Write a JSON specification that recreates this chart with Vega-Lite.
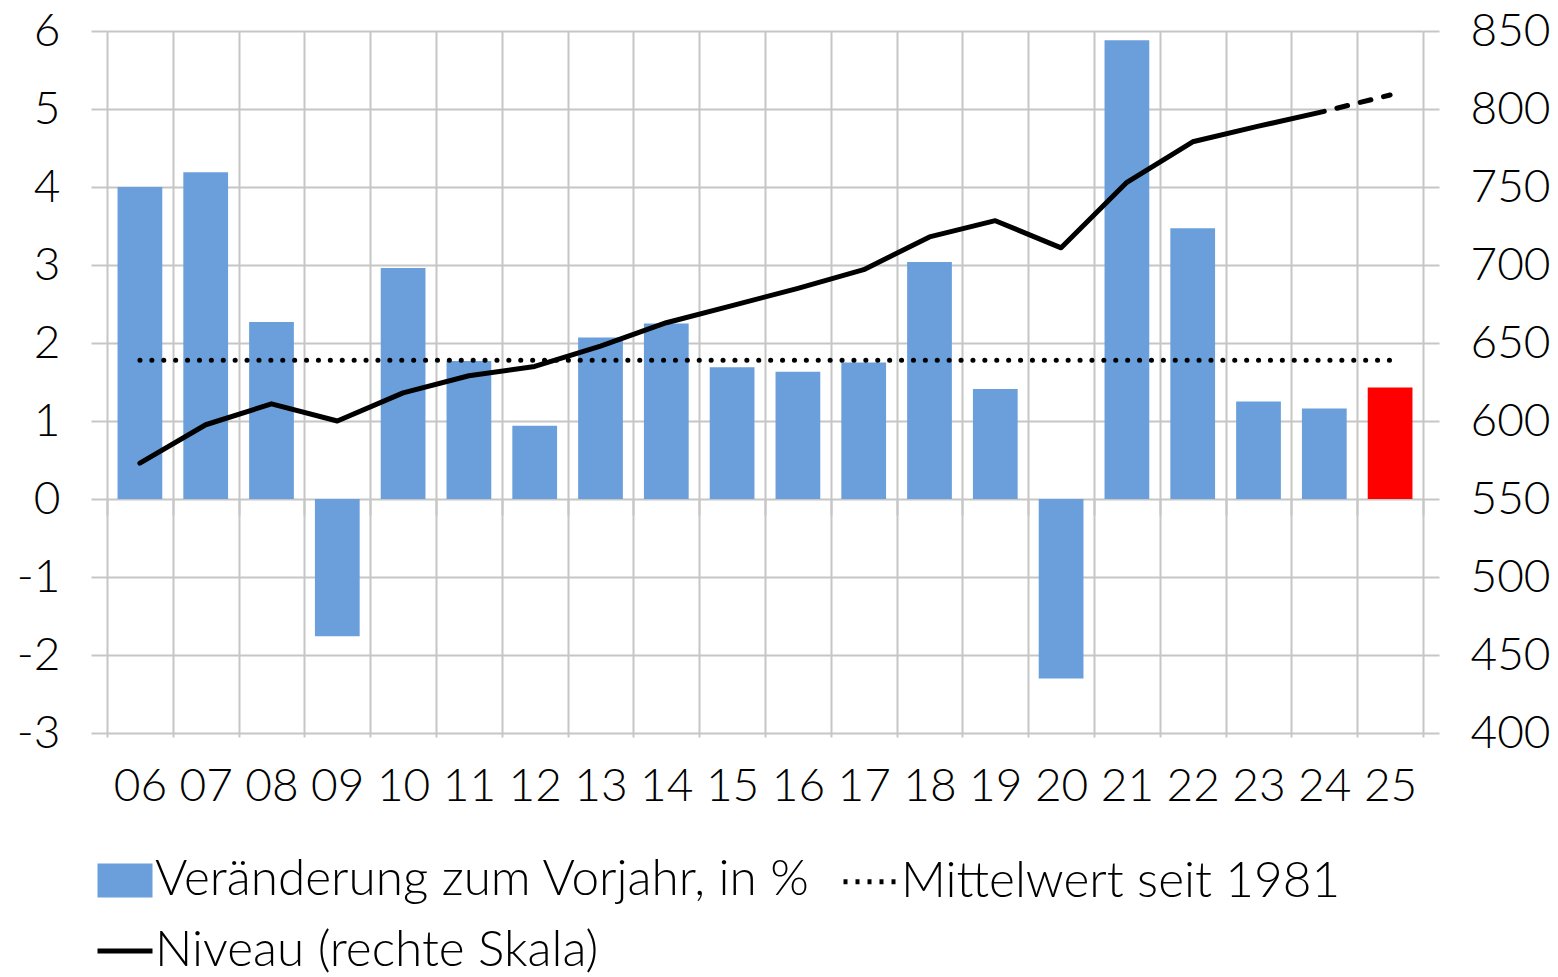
{
  "$schema": "https://vega.github.io/schema/vega-lite/v6.json",
  "width": 1316,
  "height": 702,
  "autosize": {"type": "none"},
  "padding": {"left": 107, "top": 31, "right": 135, "bottom": 244},
  "background": "white",
  "config": {
    "view": {"stroke": null},
    "font": "Lato",
    "axis": {"labelFont": "Lato", "labelFontSize": 46, "labelFontWeight": 300, "labelColor": "#000000", "gridColor": "#c6c6c6", "gridWidth": 2, "tickColor": "#c6c6c6", "tickWidth": 2, "domain": false, "title": null}
  },
  "datasets": {
    "main": [
      {"year": "06", "change": 4.0, "level": 573, "mean": 1.78},
      {"year": "07", "change": 4.19, "level": 597.6, "mean": 1.78},
      {"year": "08", "change": 2.27, "level": 611, "mean": 1.78},
      {"year": "09", "change": -1.76, "level": 600, "mean": 1.78},
      {"year": "10", "change": 2.96, "level": 618, "mean": 1.78},
      {"year": "11", "change": 1.77, "level": 629, "mean": 1.78},
      {"year": "12", "change": 0.94, "level": 635, "mean": 1.78},
      {"year": "13", "change": 2.07, "level": 648, "mean": 1.78},
      {"year": "14", "change": 2.25, "level": 663, "mean": 1.78},
      {"year": "15", "change": 1.69, "level": 674, "mean": 1.78},
      {"year": "16", "change": 1.63, "level": 685, "mean": 1.78},
      {"year": "17", "change": 1.75, "level": 697, "mean": 1.78},
      {"year": "18", "change": 3.04, "level": 718, "mean": 1.78},
      {"year": "19", "change": 1.41, "level": 728.4, "mean": 1.78},
      {"year": "20", "change": -2.3, "level": 711, "mean": 1.78},
      {"year": "21", "change": 5.88, "level": 753, "mean": 1.78},
      {"year": "22", "change": 3.47, "level": 779, "mean": 1.78},
      {"year": "23", "change": 1.25, "level": 789, "mean": 1.78},
      {"year": "24", "change": 1.16, "level": 798.5, "mean": 1.78},
      {"year": "25", "change": 1.43, "level": 809, "mean": 1.78}
    ],
    "legendItems": [
      {"series": "Veränderung zum Vorjahr, in %"},
      {"series": "Mittelwert seit 1981"},
      {"series": "Niveau (rechte Skala)"}
    ]
  },
  "layer": [
    {
      "data": {"name": "main"},
      "encoding": {
        "x": {
          "field": "year", "type": "ordinal",
          "scale": {"domain": ["06","07","08","09","10","11","12","13","14","15","16","17","18","19","20","21","22","23","24","25"], "paddingInner": 0, "paddingOuter": 0},
          "axis": {"tickBand": "extent", "grid": true, "ticks": true, "tickSize": 4, "labelPadding": 27, "labelAngle": 0, "orient": "bottom"}
        }
      },
      "layer": [
        {
          "mark": {"type": "bar", "width": {"band": 0.68}},
          "encoding": {
            "y": {"field": "change", "type": "quantitative", "scale": {"domain": [-3, 6], "nice": false, "zero": false},
                  "axis": {"orient": "left", "values": [-3,-2,-1,0,1,2,3,4,5,6], "tickSize": 16, "labelPadding": 31, "grid": true, "title": null, "labelExpr": "datum.value < 0 ? '-' + abs(datum.value) : datum.label"}},
            "color": {"condition": {"test": "datum.year === '25'", "value": "#ff0000"}, "value": "#6a9fdb"}
          }
        },
        {
          "mark": {"type": "line", "color": "#000000", "strokeWidth": 5, "strokeDash": [0.1, 11.8], "strokeCap": "round"},
          "encoding": {
            "y": {"field": "mean", "type": "quantitative", "scale": {"domain": [-3, 6], "nice": false, "zero": false},
                  "axis": {"orient": "left", "values": [-3,-2,-1,0,1,2,3,4,5,6], "tickSize": 16, "labelPadding": 31, "grid": true, "title": null, "labelExpr": "datum.value < 0 ? '-' + abs(datum.value) : datum.label"}}
          }
        }
      ]
    },
    {
      "data": {"name": "main"},
      "encoding": {
        "x": {"field": "year", "type": "ordinal",
              "axis": {"tickBand": "extent", "grid": false, "labels": false, "ticks": true, "tickSize": 16, "offset": -234, "orient": "bottom"}},
        "y": {"field": "level", "type": "quantitative", "scale": {"domain": [400, 850], "nice": false, "zero": false},
              "axis": {"orient": "right", "values": [400,450,500,550,600,650,700,750,800,850], "tickSize": 16, "labelPadding": 31, "grid": false}}
      },
      "layer": [
        {
          "transform": [{"filter": "datum.year !== '25'"}],
          "mark": {"type": "line", "color": "#000000", "strokeWidth": 5, "strokeCap": "round", "strokeJoin": "round"}
        },
        {
          "transform": [{"filter": "datum.year === '24' || datum.year === '25'"}],
          "mark": {"type": "line", "color": "#000000", "strokeWidth": 5, "strokeCap": "round", "strokeDash": [11, 13], "strokeDashOffset": -13}
        }
      ]
    },
    {
      "data": {"name": "legendItems"},
      "mark": {"type": "point", "opacity": 0, "strokeWidth": 5},
      "encoding": {
        "fill": {"field": "series", "type": "nominal",
                 "scale": {"domain": ["Veränderung zum Vorjahr, in %", "Mittelwert seit 1981", "Niveau (rechte Skala)"], "range": ["#6a9fdb", "transparent", "transparent"]},
                 "legend": {"orient": "none", "legendX": -12, "legendY": 819, "columns": 2, "direction": "horizontal", "title": null, "labelFont": "Lato", "labelFontWeight": 300, "labelFontSize": 49.5, "labelColor": "#000000", "labelLimit": 1200, "symbolSize": 3025, "symbolStrokeWidth": 5, "symbolOpacity": 1, "columnPadding": 22, "rowPadding": 13, "labelOffset": 0, "padding": 0}},
        "stroke": {"field": "series", "type": "nominal",
                   "scale": {"domain": ["Veränderung zum Vorjahr, in %", "Mittelwert seit 1981", "Niveau (rechte Skala)"], "range": ["transparent", "#000000", "#000000"]},
                   "legend": {"orient": "none", "legendX": -12, "legendY": 819, "columns": 2, "direction": "horizontal", "title": null, "labelFont": "Lato", "labelFontWeight": 300, "labelFontSize": 49.5, "labelColor": "#000000", "labelLimit": 1200, "symbolSize": 3025, "symbolStrokeWidth": 5, "symbolOpacity": 1, "columnPadding": 22, "rowPadding": 13, "labelOffset": 0, "padding": 0}},
        "shape": {"field": "series", "type": "nominal",
                  "scale": {"domain": ["Veränderung zum Vorjahr, in %", "Mittelwert seit 1981", "Niveau (rechte Skala)"], "range": ["M-1,-0.62L1,-0.62L1,0.62L-1,0.62Z", "M-1,0L1,0", "M-1,0L1,0"]},
                  "legend": {"orient": "none", "legendX": -12, "legendY": 819, "columns": 2, "direction": "horizontal", "title": null, "labelFont": "Lato", "labelFontWeight": 300, "labelFontSize": 49.5, "labelColor": "#000000", "labelLimit": 1200, "symbolSize": 3025, "symbolStrokeWidth": 5, "symbolOpacity": 1, "columnPadding": 22, "rowPadding": 13, "labelOffset": 0, "padding": 0}},
        "strokeDash": {"field": "series", "type": "nominal",
                       "scale": {"domain": ["Veränderung zum Vorjahr, in %", "Mittelwert seit 1981", "Niveau (rechte Skala)"], "range": [[1, 0], [4, 8], [1, 0]]},
                       "legend": {"orient": "none", "legendX": -12, "legendY": 819, "columns": 2, "direction": "horizontal", "title": null, "labelFont": "Lato", "labelFontWeight": 300, "labelFontSize": 49.5, "labelColor": "#000000", "labelLimit": 1200, "symbolSize": 3025, "symbolStrokeWidth": 5, "symbolOpacity": 1, "columnPadding": 22, "rowPadding": 13, "labelOffset": 0, "padding": 0}}
      }
    }
  ],
  "resolve": {"scale": {"y": "independent"}, "axis": {"x": "independent"}}
}
